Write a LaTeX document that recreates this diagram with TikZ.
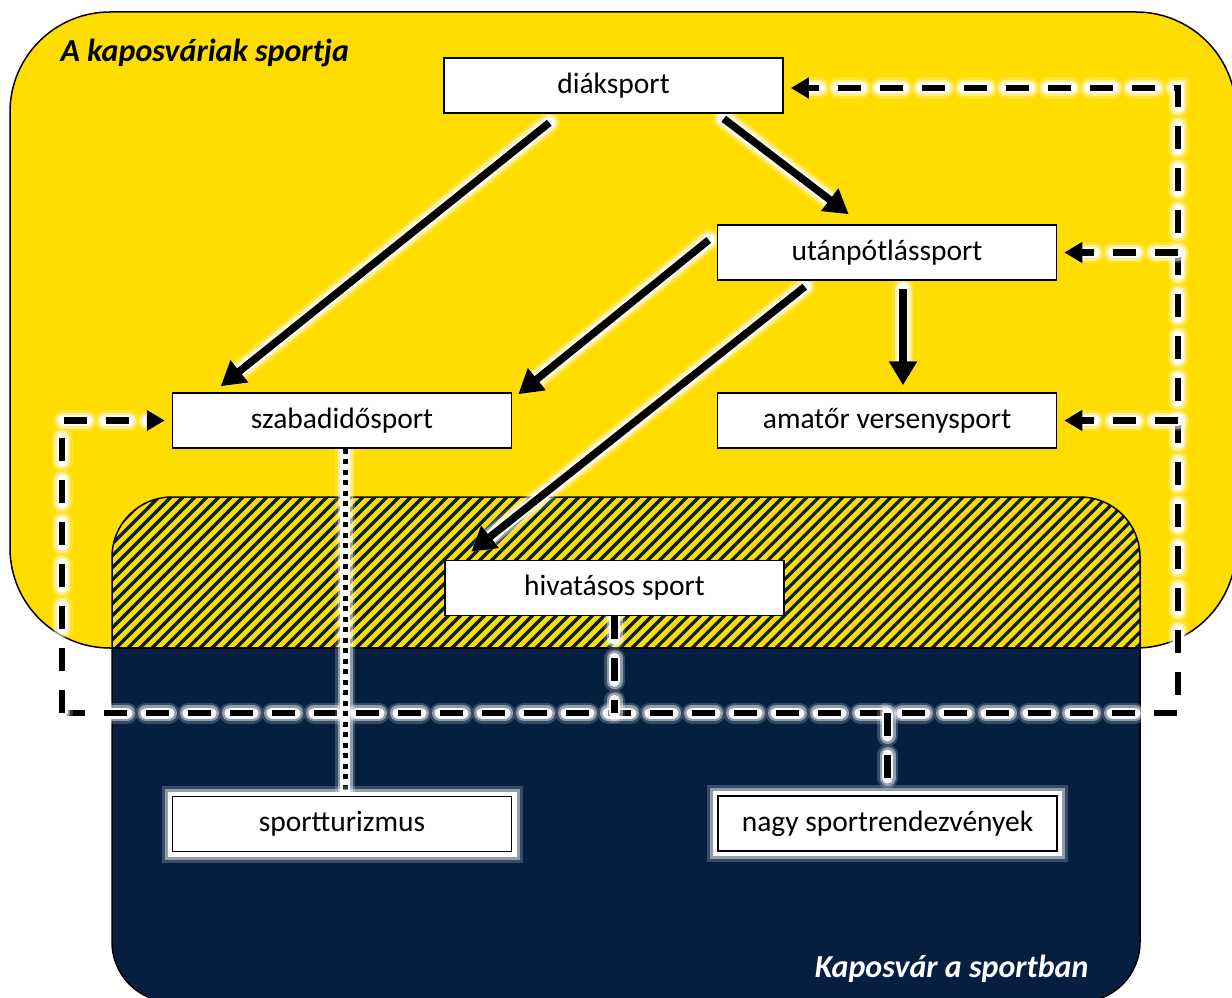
\documentclass[tikz,border=0pt]{standalone}
\usepackage{fontspec}
\setmainfont{Carlito}
\usetikzlibrary{arrows.meta,calc}
\definecolor{kyellow}{RGB}{255,221,0}
\definecolor{knavy}{RGB}{6,31,65}
\pgfdeclarelayer{back}
\pgfdeclarelayer{mid}
\pgfsetlayers{back,mid,main}
\begin{document}
\begin{tikzpicture}[x=1pt,y=-1pt,
  box/.style={draw=black, line width=1.5pt, fill=white, minimum width=339pt, minimum height=55pt, inner sep=0pt, font=\fontsize{29.5}{34}\selectfont},
  glowbox/.style={preaction={draw=white, line width=22pt, opacity=0.2, rounded corners=4pt},
                  preaction={draw=white, line width=16pt, opacity=0.45, rounded corners=3pt},
                  preaction={draw=white, line width=10pt, opacity=1}},
  solidarrow/.style={preaction={draw=white, line width=22pt, opacity=0.2, line cap=round},
                     preaction={draw=white, line width=17pt, opacity=0.45, line cap=round},
                     preaction={draw=white, line width=12pt, opacity=0.95, line cap=round},
                     line width=7.5pt, -{Triangle[length=24pt,width=27pt]}},
  dashline/.style={preaction={draw=white, line width=21pt, opacity=0.2, line cap=round, dash pattern=on 23pt off 19pt},
                   preaction={draw=white, line width=16pt, opacity=0.45, line cap=round, dash pattern=on 23pt off 19pt},
                   preaction={draw=white, line width=11pt, opacity=0.95, line cap=round, dash pattern=on 23pt off 19pt},
                   line width=6.5pt, dash pattern=on 23pt off 19pt},
  dtip/.style={-{Triangle[length=18pt,width=20pt]}},
  dotline/.style={preaction={draw=white, line width=20pt, opacity=0.2},
                  preaction={draw=white, line width=15pt, opacity=0.45},
                  preaction={draw=white, line width=10pt, opacity=0.95},
                  line width=5pt, dash pattern=on 5pt off 5.5pt},
  titlefont/.style={font=\fontsize{32}{36}\selectfont\bfseries\itshape}
]
\useasboundingbox (0,0) rectangle (1232,998);

% nodes
\node[box] (diak) at (613.5,85.5) {diáksport};
\node[box] (utan) at (887,252.5) {utánpótlássport};
\node[box] (szab) at (342,420.5) {szabadidősport};
\node[box] (amat) at (887,420.5) {amatőr versenysport};
\node[box] (hiv) at (614.5,588) {hivatásos sport};
\node[box, glowbox] (sport) at (342,824) {sportturizmus};
\node[box, glowbox] (nagy) at (887.5,823.5) {nagy sportrendezvények};

\node[titlefont, anchor=base west] (t1) at (57,62) {A kaposváriak sportja};
\node[titlefont, text=white, anchor=base east] (t2) at (1092,977) {Kaposvár a sportban};

\begin{pgfonlayer}{back}
  \fill[kyellow, draw=black, line width=1.5pt, rounded corners=100pt] (10,12) rectangle (1236,648);
  \fill[knavy, rounded corners=60pt] (112,497) rectangle (1140,1002);
  \begin{scope}
    \clip[rounded corners=60pt] (112,497) rectangle (1140,1002);
    \clip (0,0) rectangle (1232,648);
    \fill[kyellow] (100,480) rectangle (1150,660);
    \foreach \i in {-100,-88,...,1160} {
      \draw[knavy, line width=3.2pt] (\i,660) -- ++(200,-200);
    }
  \end{scope}
  \draw[black, line width=1.5pt, rounded corners=60pt] (112,497) rectangle (1140,1002);
  \draw[black, line width=1.5pt] (112,648) -- (1140,648);
\end{pgfonlayer}

\begin{pgfonlayer}{mid}
  \coordinate (bl) at (62,713);
  \coordinate (br) at (1178,713);
  % solid arrows
  \draw[solidarrow] ($(diak.south west)+(106,9)$) -- ($(szab.north west)+(49,-6)$);
  \draw[solidarrow] ($(diak.south east)+(-60,5)$) -- ($(utan.north west)+(132,-10)$);
  \draw[solidarrow] ($(utan.west)+(-8,-12.5)$) -- ($(szab.north east)+(6,2)$);
  \draw[solidarrow] ($(utan.south west)+(88,6)$) -- ($(hiv.north west)+(27,-8)$);
  \draw[solidarrow] ($(utan.south)+(16,8)$) -- ($(amat.north)+(16,-7)$);
  % dashed
  \draw[dashline, dtip] (bl) -- (br) |- ($(diak.east)+(7,2.5)$);
  \draw[dashline, dtip] (bl) |- ($(szab.west)+(-7,0)$);
  \draw[dashline, dtip] (br |- utan.east) -- ($(utan.east)+(7,0)$);
  \draw[dashline, dtip] (br |- amat.east) -- ($(amat.east)+(7,0)$);
  \draw[dashline] (hiv.south) -- (hiv.south |- bl);
  \draw[dashline] (nagy.north |- bl) -- (nagy.north);
  % dotted
  \draw[dotline] ($(szab.south)+(3,0)$) -- ($(sport.north)+(3,0)$);
\end{pgfonlayer}
\end{tikzpicture}
\end{document}
